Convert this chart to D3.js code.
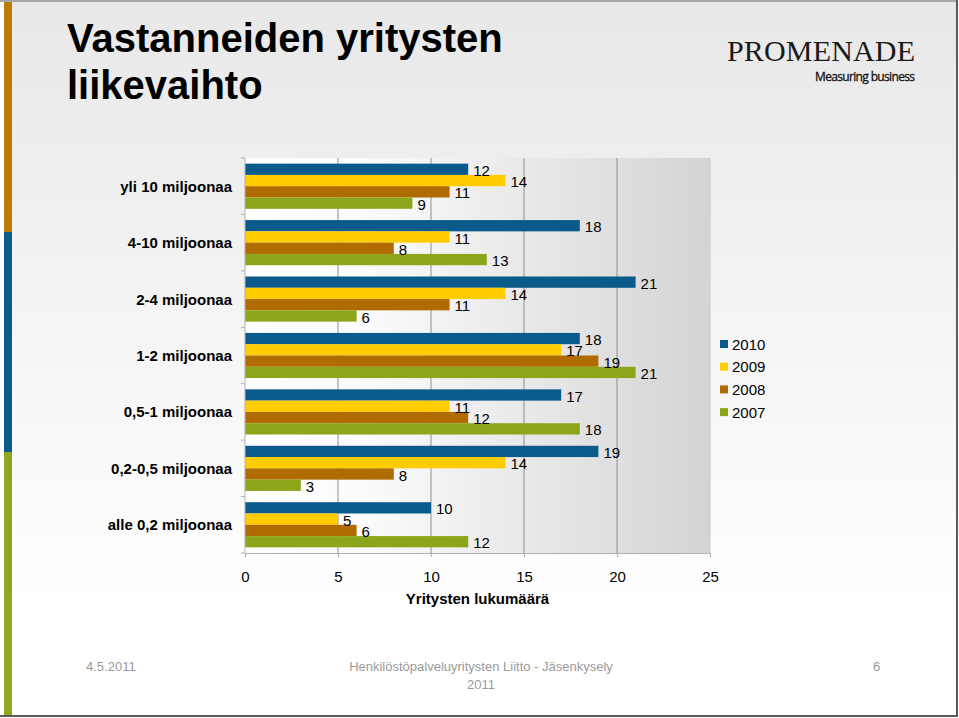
<!DOCTYPE html>
<html><head><meta charset="utf-8">
<script src="https://cdn.jsdelivr.net/npm/d3@7"></script>
<style>html,body{margin:0;padding:0;background:#fff;}svg{display:block;font-family:"Liberation Sans",Arial,sans-serif;}</style>
</head><body>
<script>
const categories = ["yli 10 miljoonaa","4-10 miljoonaa","2-4 miljoonaa","1-2 miljoonaa","0,5-1 miljoonaa","0,2-0,5 miljoonaa","alle 0,2 miljoonaa"];
const seriesNames = ["2010","2009","2008","2007"];
const values2010 = [12,18,21,18,17,19,10];
const values2009 = [14,11,14,17,11,14,5];
const values2008 = [11,8,11,19,12,8,6];
const values2007 = [9,13,6,21,18,3,12];
const xTicks = [0,5,10,15,20,25];
const seriesColors = ["#0a5a8c","#ffcc00","#b06c00","#8ca61a"];

const seriesValues = [values2010, values2009, values2008, values2007];
const W = 959, H = 718;
const svg = d3.select("body").append("svg").attr("width", W).attr("height", H);
const defs = svg.append("defs");
const bg = defs.append("linearGradient").attr("id","bg").attr("x1",0).attr("y1",0).attr("x2",0).attr("y2",1);
bg.append("stop").attr("offset","0%").attr("stop-color","#e8e8e8");
bg.append("stop").attr("offset","85%").attr("stop-color","#ffffff");
const wall = defs.append("linearGradient").attr("id","wall").attr("x1",0).attr("y1",0).attr("x2",1).attr("y2",0);
wall.append("stop").attr("offset","0%").attr("stop-color","#ffffff");
wall.append("stop").attr("offset","25%").attr("stop-color","#fbfbfb");
wall.append("stop").attr("offset","100%").attr("stop-color","#d4d4d4");

// slide background
svg.append("rect").attr("x",0).attr("y",0).attr("width",W).attr("height",H).attr("fill","#fff");
svg.append("rect").attr("x",12).attr("y",2).attr("width",944).attr("height",713).attr("fill","url(#bg)");
// frame
svg.append("line").attr("x1",0).attr("x2",958).attr("y1",1).attr("y2",1).attr("stroke","#8a8a8a").attr("stroke-width",1.5);
svg.append("line").attr("x1",0).attr("x2",958).attr("y1",716).attr("y2",716).attr("stroke","#5a5a5a").attr("stroke-width",2);
svg.append("line").attr("x1",957).attr("x2",957).attr("y1",0).attr("y2",717).attr("stroke","#5a5a5a").attr("stroke-width",2);
// left stripe
svg.append("rect").attr("x",4).attr("y",2).attr("width",8).attr("height",230).attr("fill","#b97c06");
svg.append("rect").attr("x",4).attr("y",232).attr("width",8).attr("height",220).attr("fill","#0d5a8c");
svg.append("rect").attr("x",4).attr("y",452).attr("width",8).attr("height",263).attr("fill","#8ea71c");

// title
const title = svg.append("text").attr("x",67).attr("font-size",40).attr("font-weight","bold").attr("fill","#000");
title.append("tspan").attr("x",67).attr("y",52).text("Vastanneiden yritysten");
title.append("tspan").attr("x",67).attr("y",99).text("liikevaihto");

// logo
svg.append("text").attr("x",727).attr("y",61).attr("font-family","'Liberation Serif','Times New Roman',serif")
  .attr("font-size",30).attr("fill","#1a1a1a").attr("textLength",188).text("PROMENADE");
svg.append("text").attr("x",915).attr("y",81).attr("text-anchor","end").attr("font-size",12)
  .attr("font-family","'Open Sans','Liberation Sans',sans-serif")
  .attr("fill","#111").attr("stroke","#111").attr("stroke-width",0.3).attr("textLength",100).text("Measuring business");

// chart
const x0 = 245, x1 = 710, y0 = 158, y1 = 553;
const x = d3.scaleLinear().domain([0,25]).range([x0,x1]);
const y = d3.scaleBand().domain(categories).range([y0,y1]).paddingInner(0.2).paddingOuter(0.1);
const ys = d3.scaleBand().domain(seriesNames).range([0,y.bandwidth()]);

svg.append("rect").attr("x",x0).attr("y",y0).attr("width",x1-x0).attr("height",y1-y0).attr("fill","url(#wall)");
svg.append("g").selectAll("line").data(xTicks.slice(1)).join("line")
  .attr("x1",d=>x(d)).attr("x2",d=>x(d)).attr("y1",y0).attr("y2",y1)
  .attr("stroke",d=>d===25?"#c8c8c8":"#8f8f8f").attr("stroke-width",1);

// bars
const gBars = svg.append("g");
categories.forEach((c,ci)=>{
  seriesNames.forEach((s,si)=>{
    const v = seriesValues[si][ci];
    gBars.append("rect").attr("x",x(0)).attr("y",y(c)+ys(s)).attr("width",x(v)-x(0)).attr("height",ys.bandwidth())
      .attr("fill",seriesColors[si]);
  });
});
// labels
const gLab = svg.append("g").attr("font-size",15).attr("fill","#000");
categories.forEach((c,ci)=>{
  seriesNames.forEach((s,si)=>{
    const v = seriesValues[si][ci];
    gLab.append("text").attr("x",x(v)+5).attr("y",y(c)+ys(s)+ys.bandwidth()/2+6.5).text(v);
  });
});

// axes
const xAxis = d3.axisBottom(x).tickValues(xTicks).tickSize(4).tickPadding(14);
const gx = svg.append("g").attr("transform",`translate(0,${y1})`).call(xAxis);
gx.select(".domain").attr("stroke","#b0b0b0");
gx.selectAll(".tick line").attr("stroke","#b0b0b0");
gx.selectAll(".tick text").attr("font-size",15).attr("font-family","'Liberation Sans',Arial,sans-serif").attr("fill","#000");

const boundaries = [y0].concat(categories.map(c=>y(c)+y.bandwidth()+y.step()*0.1));
const gy = svg.append("g");
gy.append("line").attr("x1",x0).attr("x2",x0).attr("y1",y0).attr("y2",y1).attr("stroke","#b0b0b0");
gy.selectAll("line.t").data(boundaries).join("line").attr("class","t")
  .attr("x1",x0-4).attr("x2",x0).attr("y1",d=>d).attr("y2",d=>d).attr("stroke","#b0b0b0");
gy.selectAll("text").data(categories).join("text")
  .attr("x",232).attr("y",d=>y(d)+y.bandwidth()/2+5.5).attr("text-anchor","end")
  .attr("font-size",15).attr("font-weight","bold").attr("fill","#000").text(d=>d);

svg.append("text").attr("x",(x0+x1)/2).attr("y",604).attr("text-anchor","middle")
  .attr("font-size",15).attr("font-weight","bold").text("Yritysten lukumäärä");

// legend
const lg = svg.append("g").attr("transform","translate(720,340)");
seriesNames.forEach((s,i)=>{
  lg.append("rect").attr("x",0).attr("y",i*22.7).attr("width",8).attr("height",8).attr("fill",seriesColors[i]);
  lg.append("text").attr("x",12).attr("y",i*22.7+9.5).attr("font-size",15).text(s);
});

// footer
const foot = svg.append("g").attr("fill","#9a9a9a").attr("font-size",13);
foot.append("text").attr("x",86).attr("y",671).text("4.5.2011");
foot.append("text").attr("x",481).attr("y",671).attr("text-anchor","middle").text("Henkilöstöpalveluyritysten Liitto - Jäsenkysely");
foot.append("text").attr("x",481).attr("y",689).attr("text-anchor","middle").text("2011");
foot.append("text").attr("x",873).attr("y",671).text("6");
</script>
</body></html>
